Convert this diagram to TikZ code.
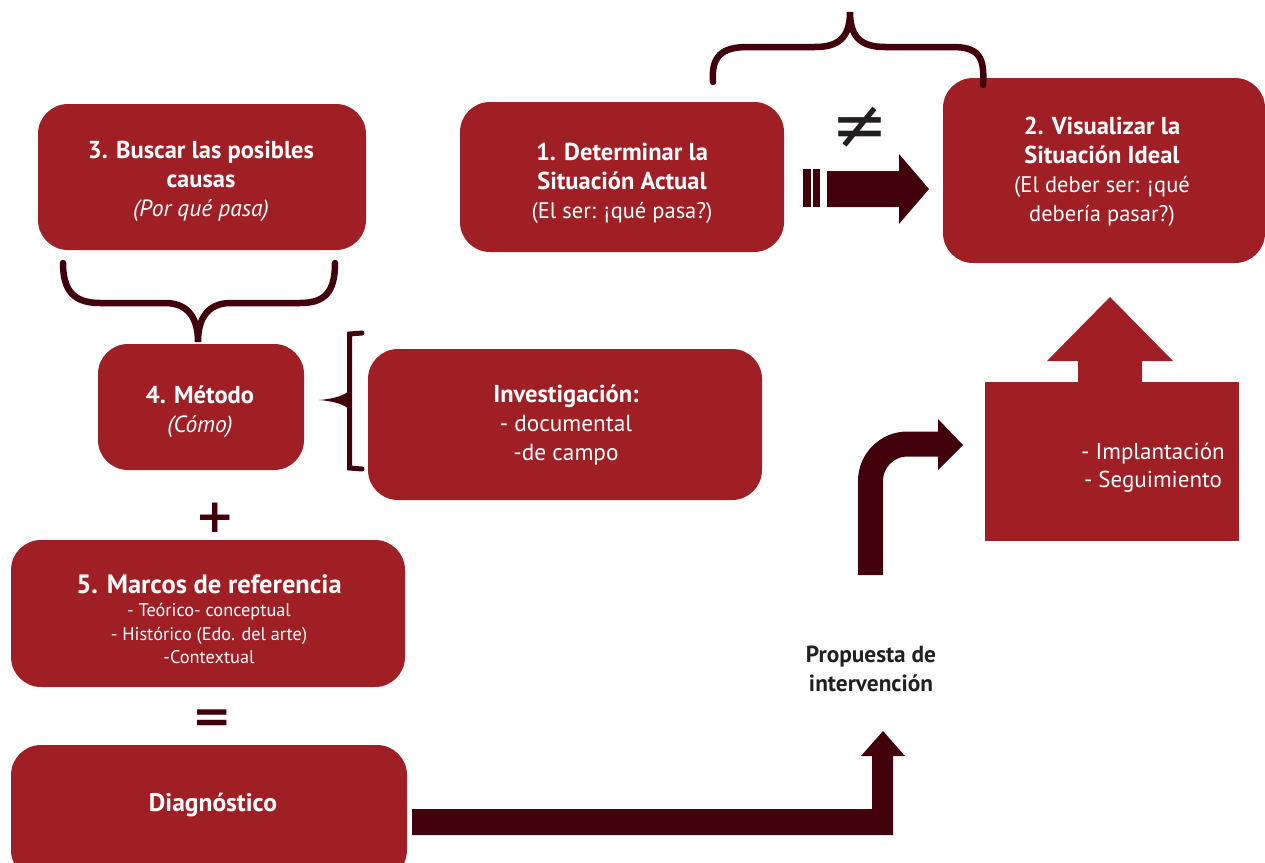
\documentclass[tikz,border=0pt]{standalone}
\usepackage{fontspec}
\setmainfont{PT Sans}
\newfontfamily\dejavu{DejaVu Sans}
\definecolor{boxred}{HTML}{A01F25}
\definecolor{darkred}{HTML}{42000B}
\definecolor{txtdark}{HTML}{231F20}
\newcommand{\fz}[2]{\fontsize{#1}{#2}\selectfont}
\newcommand{\hb}[1]{{\fz{24.5}{29}\bfseries #1}}
\newcommand{\rg}[1]{{\fz{22.5}{29}#1}}
\newcommand{\itl}[1]{{\fz{23.5}{29}\itshape #1}}
\begin{document}
\begin{tikzpicture}[x=1pt,y=-1pt,
  box/.style={fill=boxred, rounded corners=30pt, inner sep=0pt},
  flatbox/.style={fill=boxred, inner sep=0pt},
  lbl/.style={text=white, align=center, inner sep=0pt, font=\fz{22.5}{29}},
  bracestroke/.style={draw=darkred, line width=6.5pt, line cap=round},
  bigarrow/.style={fill=darkred},
  symb/.style={text=darkred, inner sep=0pt, font=\dejavu\bfseries\fz{47}{47}}]
\useasboundingbox (0,0) rectangle (1265,862);

% boxes
\node[box, minimum width=328pt, minimum height=146pt] (b3) at (202,177) {};
\node[lbl] (b3t) at (201,181) {\hb{3. Buscar las posibles}\\\hb{causas}\\\itl{(Por qué pasa)}};

\node[box, minimum width=324pt, minimum height=150pt] (b1) at (622,177) {};
\node[lbl] (b1t) at (622,183) {\hb{1. Determinar la}\\\hb{Situación Actual}\\\rg{(El ser: ¡qué pasa?)}};

\node[box, minimum width=322pt, minimum height=185pt] (b2) at (1104,170.5) {};
\node[lbl] (b2t) at (1102,172) {\hb{2. Visualizar la}\\\hb{Situación Ideal}\\\rg{(El deber ser: ¡qué}\\\rg{debería pasar?)}};

\node[box, minimum width=206pt, minimum height=126pt] (b4) at (201,407) {};
\node[lbl] (b4t) at (200,412) {\hb{4. Método}\\\itl{(Cómo)}};

\node[box, minimum width=394pt, minimum height=151pt] (inv) at (565,424.5) {};
\node[lbl, font=\fz{23.3}{29}] (invt) at (566,425) {\hb{Investigación:}\\- documental\\-de campo};

\node[box, minimum width=394pt, minimum height=147pt] (b5) at (208,613.5) {};
\node[lbl, font=\fz{18.3}{23.5}] (b5t) at (209,619)
  {{\fz{26.5}{24}\bfseries 5. Marcos de referencia}\\- Teórico- conceptual\\- Histórico (Edo. del arte)\\-Contextual};

\node[box, minimum width=396pt, minimum height=135pt] (diag) at (209,812.5) {};
\node[lbl] (diagt) at (213,805) {\hb{\fz{25.5}{29}Diagnóstico}};

% implantation block with up arrow
\node[flatbox, minimum width=254pt, minimum height=159pt] (impl) at (1112,461.5) {};
\fill[boxred] (1078,383) -- (1078,361) -- (1047,361) -- (1110,297) -- (1173,361) -- (1142,361) -- (1142,383) -- cycle;
\node[lbl, font=\fz{23}{28}] (implt) at (1153,468) {- Implantación\\- Seguimiento};

% proposal label
\node[text=txtdark, align=center, font=\fz{23.3}{29}\bfseries, inner sep=0pt] (prop) at (871,669)
  {Propuesta de\\intervención};

% top brace
\draw[bracestroke] (713,82) .. controls (711,56) and (722,47) .. (748,47) -- (815,47)
  .. controls (838,47) and (850,38) .. (850,12)
  .. controls (850,38) and (862,47) .. (885,47) -- (952,47)
  .. controls (978,47) and (985,56) .. (983,85);

% not-equal sign
\node[text=txtdark, inner sep=0pt, font=\dejavu\fz{68}{68}] (neq) at (860,128) {≠};

% arrow 1 -> 2
\fill[bigarrow] (803,169) rectangle (811,207);
\fill[bigarrow] (813,169) rectangle (820,207);
\fill[bigarrow] (827,171) -- (899,171) -- (899,154) -- (929,189) -- (899,224) -- (899,207) -- (827,207) -- cycle;

% brace under box 3
\draw[bracestroke] (63,263) .. controls (63,292) and (75,303) .. (100,303) -- (165,303)
  .. controls (188,303) and (198,318) .. (198,342)
  .. controls (198,318) and (208,303) .. (231,303) -- (300,303)
  .. controls (325,303) and (335,292) .. (335,263);

% bracket between box 4 and investigation
\draw[draw=darkred, line width=5pt, line cap=round] (362,333) -- (349.5,334) -- (349.5,468) -- (362,469);
\fill[darkred] (350,389) .. controls (346,396) and (332,399) .. (319,400)
  .. controls (332,401) and (346,404) .. (350,411) -- cycle;

% plus and equals
\node[symb] (plus) at (215,518) {+};
\node[symb] (eq) at (212,721) {=};

% bent arrow to implantation
\draw[darkred, line width=25pt, rounded corners=37pt] (870.5,575) -- (870.5,444) -- (939,444);
\fill[bigarrow] (938,419) -- (963,445) -- (938,470) -- cycle;

% bottom arrow from diagnostico to proposal
\fill[bigarrow] (412,809) -- (872,809) -- (872,756) -- (861,756) -- (883,731) -- (905,756) -- (893,756) -- (893,835) -- (412,835) -- cycle;
\end{tikzpicture}
\end{document}
